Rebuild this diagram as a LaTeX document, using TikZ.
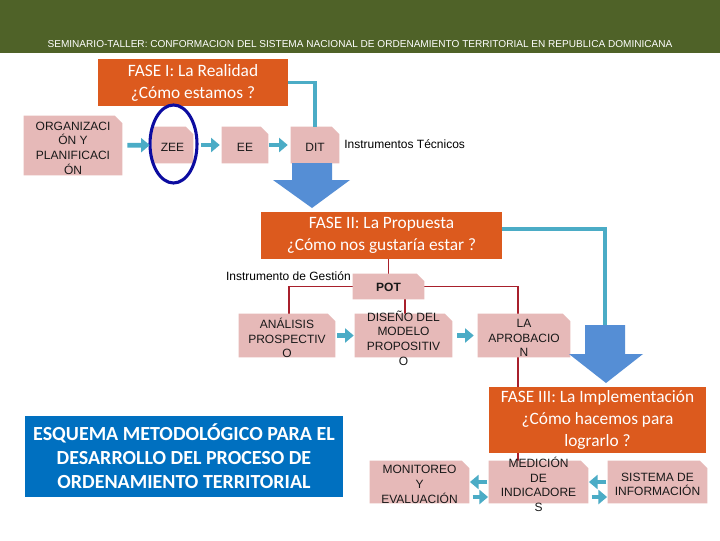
\documentclass[tikz,border=0pt]{standalone}
\usepackage{fontspec}
\setmainfont{Liberation Sans}
\newfontfamily\calib{Carlito}
\usetikzlibrary{shapes.geometric,arrows.meta,backgrounds}
\definecolor{hdrgreen}{HTML}{4F6228}
\definecolor{faseorange}{HTML}{DC5A1E}
\definecolor{boxpink}{HTML}{E6B9B8}
\definecolor{tealc}{HTML}{4BACC6}
\definecolor{arrowblue}{HTML}{558ED5}
\definecolor{esqblue}{HTML}{0070C0}
\definecolor{ringblue}{HTML}{0C0CA0}
\definecolor{redln}{HTML}{A8202C}
\tikzset{
  pinkbox/.style 2 args={rectangle, inner sep=0pt,
    minimum width=#1*0.75pt, minimum height=#2*0.75pt},
  btxt/.style={font=\fontsize{9}{11}\selectfont, align=center, text=black!90, yshift=-1.8pt},
  fasebox/.style 2 args={rectangle, fill=faseorange, text=white, inner sep=0pt,
    font=\calib\fontsize{13}{16.5}\selectfont, align=center,
    minimum width=#1*0.75pt, minimum height=#2*0.75pt},
  tarrow/.style={draw=tealc, line width=3.6pt, -{Triangle[length=6.5pt,width=10.5pt]}},
  tline/.style={draw=tealc, line width=2.3pt},
  rline/.style={draw=redln, line width=0.9pt},
  bigarrow/.style={fill=arrowblue},
  plain/.style={font=\fontsize{9}{11}\selectfont, text=black, inner sep=0pt}
}
\begin{document}
\begin{tikzpicture}[x=0.75pt,y=-0.75pt]
\useasboundingbox (0,0) rectangle (720,540);
\begin{pgfonlayer}{background}
\fill[white] (0,0) rectangle (720,540);
\end{pgfonlayer}
% header
\fill[hdrgreen] (0,0) rectangle (720,53);
\node[font=\fontsize{7.55}{9}\selectfont, text=white, inner sep=0pt] (hdr) at (360,44)
  {SEMINARIO-TALLER: CONFORMACION DEL SISTEMA NACIONAL DE ORDENAMIENTO TERRITORIAL EN REPUBLICA DOMINICANA};

% phase I
\node[fasebox={190}{47}] (f1) at (193,82.5) {FASE I: La Realidad\\¿Cómo estamos ?};
\node[pinkbox={98}{59}, label={[btxt]center:ORGANIZACI\\ÓN Y\\PLANIFICACI\\ÓN}] (org) at (73,145.5) {};
\node[pinkbox={41}{36}, label={[btxt]center:ZEE}] (zee) at (172.5,145) {};
\node[pinkbox={46}{36}, label={[btxt]center:EE}] (ee) at (245,145) {};
\node[pinkbox={48}{36}, label={[btxt]center:DIT}] (dit) at (315,145) {};
\node[draw=ringblue, line width=2.3pt, ellipse, inner sep=0pt,
  minimum width=47*0.75pt, minimum height=78*0.75pt] (ring) at (173.5,144) {};
\node[plain, anchor=west] (itec) at (344,144) {Instrumentos Técnicos};
\draw[tarrow, shorten <=3.75pt, shorten >=1.5pt] (org) -- (zee);
\draw[tarrow, shorten <=6pt, shorten >=1.5pt] (zee) -- (ee);
\draw[tarrow, shorten <=0.75pt, shorten >=2.25pt] (ee) -- (dit);
\draw[tline] (f1.east) -| (dit.north);
\fill[bigarrow] (292,163) -- (332,163) -- (332,180) -- (350,180) -- (312,208)
  -- (273,180) -- (292,180) -- cycle;

% phase II
\node[fasebox={241}{47}] (f2) at (381.5,235.5) {FASE II: La Propuesta\\¿Cómo nos gustaría estar ?};
\node[pinkbox={71}{25}, label={[btxt, yshift=1.2pt]center:\textbf{POT}}] (pot) at (388.5,286.5) {};
\node[plain, anchor=east] (iges) at (351,276) {Instrumento de Gestión};
\node[pinkbox={96}{43}, label={[btxt]center:ANÁLISIS\\PROSPECTIV\\O}] (ap) at (287,335.5) {};
\node[pinkbox={97}{43}, label={[btxt]center:DISEÑO DEL\\MODELO\\PROPOSITIV\\O}] (dm) at (403.5,335.5) {};
\node[pinkbox={92}{43}, label={[btxt]center:LA\\APROBACIO\\N}] (la) at (524,335.5) {};
\draw[tarrow, shorten <=1.5pt, shorten >=0.75pt] (ap) -- (dm);
\draw[tarrow, shorten <=3.75pt, shorten >=3pt] (dm) -- (la);
\coordinate (a2top) at (605,325);
\draw[tline] ([yshift=4.9pt]f2.east) -| (a2top);
\fill[bigarrow] (585,325) -- (625,325) -- (625,354) -- (643,354) -- (606,383)
  -- (569,354) -- (585,354) -- cycle;

% phase III
\node[fasebox={217}{66}] (f3) at (597.5,420) {FASE III: La Implementación\\¿Cómo hacemos para\\lograrlo ?};
\node[pinkbox={99}{42}, label={[btxt]center:MONITOREO\\Y\\EVALUACIÓN}] (mon) at (419.5,482) {};
\node[pinkbox={99}{42}, label={[btxt]center:MEDICIÓN\\DE\\INDICADORE\\S}] (med) at (538.5,482) {};
\node[pinkbox={99}{42}, label={[btxt]center:SISTEMA DE\\INFORMACIÓN}] (sis) at (657.5,482) {};
\draw[tarrow, shorten <=1pt, shorten >=0.5pt] (med) -- (mon);
\draw[tarrow, shorten <=2.5pt, shorten >=0.5pt] ([yshift=-11.25pt]mon.east) -- ([yshift=-11.25pt]med.west);
\draw[tarrow, shorten <=1pt, shorten >=0.5pt] (sis) -- (med);
\draw[tarrow, shorten <=2.5pt, shorten >=0.5pt] ([yshift=-11.25pt]med.east) -- ([yshift=-11.25pt]sis.west);

% title box
\node[rectangle, fill=esqblue, text=white, inner sep=0pt, align=center,
  font=\calib\bfseries\fontsize{15}{18}\selectfont,
  minimum width=318*0.75pt, minimum height=81*0.75pt] (esq) at (184,456.5)
  {ESQUEMA METODOLÓGICO PARA EL\\DESARROLLO DEL PROCESO DE\\ORDENAMIENTO TERRITORIAL};

% red connectors and pink box fills behind text
\coordinate (redend) at (518,461);
\begin{pgfonlayer}{background}
\draw[rline] (pot.north) -- (pot.north |- f2.south);
\draw[rline] (pot.west) -| ([xshift=1.5pt]ap.north);
\draw[rline] ([xshift=12.4pt]pot.south) -- ([xshift=12.4pt]pot.south |- dm.north);
\draw[rline] (pot.east) -| (redend);
\foreach \b in {org,zee,ee,dit,pot,ap,dm,la,mon,med,sis}{
  \fill[boxpink] (\b.south west) -- (\b.south east) -- ([yshift=-5.5pt]\b.north east)
    -- ([xshift=-5.5pt]\b.north east) -- (\b.north west) -- cycle;
}
\end{pgfonlayer}
\end{tikzpicture}
\end{document}
